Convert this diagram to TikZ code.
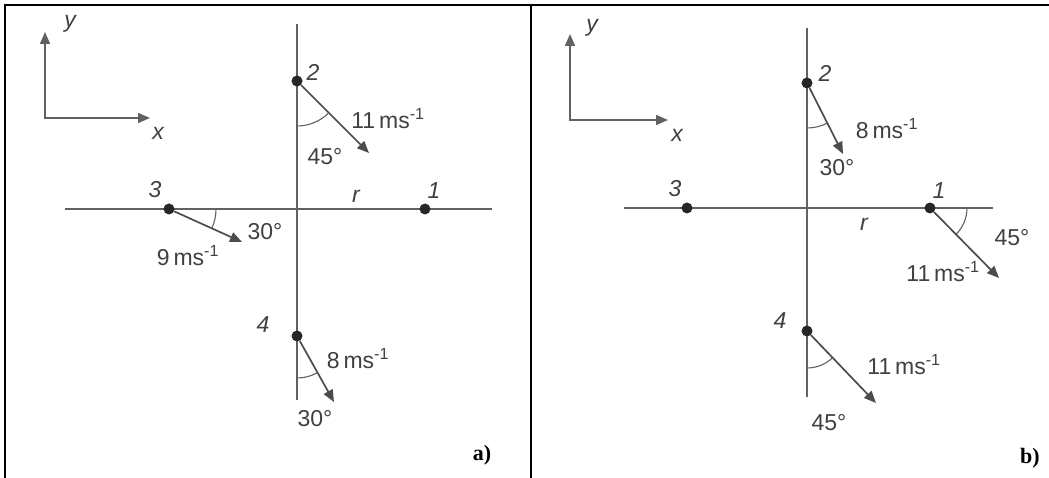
\documentclass[tikz,border=0pt]{standalone}
\usepackage{fontspec}
\setmainfont{Liberation Sans}
\newfontfamily\tagfont{Liberation Serif}
\usetikzlibrary{arrows.meta}

\begin{document}
\begin{tikzpicture}[x=1pt, y=1pt,
  dot/.style={circle, fill=black!85, inner sep=0pt, minimum size=11pt},
  vec/.style={-{Triangle[length=12pt, width=10pt]}, line width=1.7pt, draw=black!70},
  axis/.style={line width=1.7pt, draw=black!62},
  ang/.style={line width=1.1pt, draw=black!62},
  lbl/.style={font=\fontsize{23}{26}\selectfont, text=black!75, inner sep=0pt},
  num/.style={font=\fontsize{23}{26}\selectfont\itshape, text=black!75, inner sep=0pt},
  tag/.style={font=\fontsize{22}{24}\selectfont\tagfont\bfseries, inner sep=0pt}
]
\useasboundingbox (0,0) rectangle (1049,-478);
% frame
\draw[line width=2pt] (5,-478) -- (5,-5) -- (1049,-5);
\draw[line width=2pt] (531,-5) -- (531,-478);

% ---- a) ----
\coordinate (aO) at (45,-118);
\coordinate (aY) at (45,-32);
\coordinate (aX) at (150,-118);
\draw[axis, {Triangle[length=12pt, width=10pt]}-{Triangle[length=12pt, width=10pt]}] (aY) -- (aO) -- (aX);
\node[num] (aYl) at (70,-24) {y};
\node[num] (aXl) at (158,-133) {x};
\coordinate (aT) at (297,-24);
\coordinate (aB) at (297,-400);
\coordinate (aL) at (65,-209);
\coordinate (aR) at (492,-209);
\draw[axis] (aT) -- (aB);
\draw[axis] (aL) -- (aR);
\node[dot] (a1) at (425,-209) {};
\node[dot] (a2) at (297,-81) {};
\node[dot] (a3) at (169,-209) {};
\node[dot] (a4) at (297,-336) {};
\coordinate (a2v) at (369,-153);
\coordinate (a3v) at (242,-242);
\coordinate (a4v) at (334,-402);
\foreach \p in {a2, a3, a4}
  \draw[vec] (\p) -- (\p v);
\draw[ang] (a2) ++(-90:45pt) arc[start angle=-90, end angle=-45, radius=45pt];
\draw[ang] (a3) ++(0:47pt) arc[start angle=0, end angle=-24, radius=47pt];
\draw[ang] (a4) ++(-90:42pt) arc[start angle=-90, end angle=-61, radius=42pt];
\node[num] (a1l) at (434,-191) {1};
\node[num] (a2l) at (313,-72) {2};
\node[num] (a3l) at (155,-190) {3};
\node[num] (a4l) at (263,-325) {4};
\node[num] (arl) at (356,-196) {r};
\node[lbl] (a2s) at (388,-119) {11\,ms\textsuperscript{-1}};
\node[lbl] (a2g) at (325,-157) {45°};
\node[lbl] (a3s) at (188,-256) {9\,ms\textsuperscript{-1}};
\node[lbl] (a3g) at (265,-232) {30°};
\node[lbl] (a4s) at (358,-359) {8\,ms\textsuperscript{-1}};
\node[lbl] (a4g) at (315,-419) {30°};
\node[tag] (atag) at (482,-455) {a)};

% ---- b) ----
\coordinate (bO) at (570,-120);
\coordinate (bY) at (570,-34);
\coordinate (bX) at (668,-120);
\draw[axis, {Triangle[length=12pt, width=10pt]}-{Triangle[length=12pt, width=10pt]}] (bY) -- (bO) -- (bX);
\node[num] (bYl) at (592,-28) {y};
\node[num] (bXl) at (677,-135) {x};
\coordinate (bT) at (807,-28);
\coordinate (bB) at (807,-397);
\coordinate (bL) at (624,-208);
\coordinate (bR) at (993,-208);
\draw[axis] (bT) -- (bB);
\draw[axis] (bL) -- (bR);
\node[dot] (b1) at (930,-208) {};
\node[dot] (b2) at (807,-83) {};
\node[dot] (b3) at (687,-208) {};
\node[dot] (b4) at (807,-331) {};
\coordinate (b1v) at (999,-278);
\coordinate (b2v) at (843,-154);
\coordinate (b4v) at (876,-403);
\foreach \p in {b1, b2, b4}
  \draw[vec] (\p) -- (\p v);
\draw[ang] (b2) ++(-90:45pt) arc[start angle=-90, end angle=-63, radius=45pt];
\draw[ang] (b1) ++(0:37pt) arc[start angle=0, end angle=-45, radius=37pt];
\draw[ang] (b4) ++(-90:37pt) arc[start angle=-90, end angle=-46, radius=37pt];
\node[num] (b1l) at (939,-191) {1};
\node[num] (b2l) at (825,-73) {2};
\node[num] (b3l) at (675,-189) {3};
\node[num] (b4l) at (780,-321) {4};
\node[num] (brl) at (864,-224) {r};
\node[lbl] (b2s) at (887,-129) {8\,ms\textsuperscript{-1}};
\node[lbl] (b2g) at (837,-168) {30°};
\node[lbl] (b1s) at (943,-272) {11\,ms\textsuperscript{-1}};
\node[lbl] (b1g) at (1012,-238) {45°};
\node[lbl] (b4s) at (904,-365) {11\,ms\textsuperscript{-1}};
\node[lbl] (b4g) at (829,-423) {45°};
\node[tag] (btag) at (1030,-458) {b)};
\end{tikzpicture}
\end{document}
